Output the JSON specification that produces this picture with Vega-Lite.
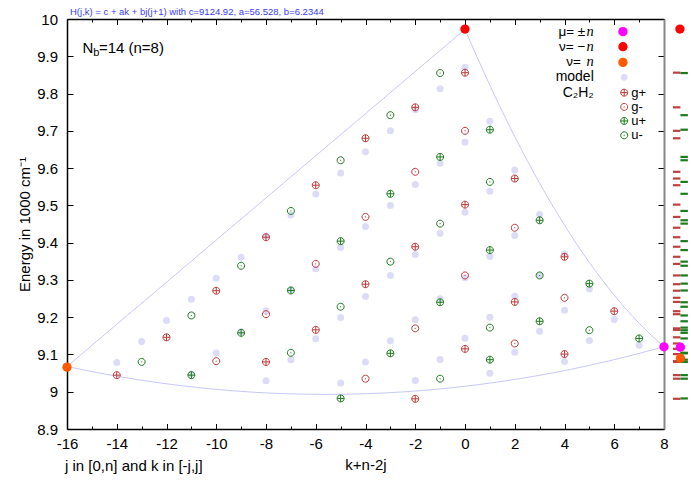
{
  "$schema": "https://vega.github.io/schema/vega-lite/v6.json",
  "width": 597,
  "height": 410,
  "autosize": {"type": "none"},
  "padding": {"left": 67, "top": 19, "right": 27, "bottom": 52},
  "background": "white",
  "config": {
    "view": {"stroke": null},
    "font": "Liberation Sans",
    "text": {"font": "Liberation Sans", "fontSize": 15, "color": "#000"},
    "axis": {"grid": false, "labelOverlap": false, "tickCount": 40, "labelFont": "Liberation Sans", "labelFontSize": 15, "labelColor": "#000", "tickColor": "#000", "domainColor": "#000", "titleFont": "Liberation Sans", "titleFontSize": 15, "titleFontWeight": "normal", "titleColor": "#000"}
  },
  "title": {"text": "H(j,k) = c + ak + bj(j+1) with c=9124.92, a=56.528, b=6.2344", "anchor": "start", "frame": "group", "fontSize": 9.5, "font": "Liberation Sans", "fontWeight": "normal", "color": "#3a3aff", "offset": -4.5, "dx": 3},
  "datasets": {
    "model": [
      {"x": 7, "E": 9.1249},
      {"x": 4, "E": 9.0809}, {"x": 5, "E": 9.1374}, {"x": 6, "E": 9.1939},
      {"x": 1, "E": 9.0493}, {"x": 2, "E": 9.1058}, {"x": 3, "E": 9.1623}, {"x": 4, "E": 9.2189}, {"x": 5, "E": 9.2754},
      {"x": -2, "E": 9.0301}, {"x": -1, "E": 9.0867}, {"x": 0, "E": 9.1432}, {"x": 1, "E": 9.1997}, {"x": 2, "E": 9.2563}, {"x": 3, "E": 9.3128}, {"x": 4, "E": 9.3693},
      {"x": -5, "E": 9.0235}, {"x": -4, "E": 9.08}, {"x": -3, "E": 9.1366}, {"x": -2, "E": 9.1931}, {"x": -1, "E": 9.2496}, {"x": 0, "E": 9.3061}, {"x": 1, "E": 9.3627}, {"x": 2, "E": 9.4192}, {"x": 3, "E": 9.4757},
      {"x": -8, "E": 9.0293}, {"x": -7, "E": 9.0858}, {"x": -6, "E": 9.1424}, {"x": -5, "E": 9.1989}, {"x": -4, "E": 9.2554}, {"x": -3, "E": 9.312}, {"x": -2, "E": 9.3685}, {"x": -1, "E": 9.425}, {"x": 0, "E": 9.4815}, {"x": 1, "E": 9.5381}, {"x": 2, "E": 9.5946},
      {"x": -11, "E": 9.0476}, {"x": -10, "E": 9.1041}, {"x": -9, "E": 9.1607}, {"x": -8, "E": 9.2172}, {"x": -7, "E": 9.2737}, {"x": -6, "E": 9.3302}, {"x": -5, "E": 9.3868}, {"x": -4, "E": 9.4433}, {"x": -3, "E": 9.4998}, {"x": -2, "E": 9.5563}, {"x": -1, "E": 9.6129}, {"x": 0, "E": 9.6694}, {"x": 1, "E": 9.7259},
      {"x": -14, "E": 9.0784}, {"x": -13, "E": 9.1349}, {"x": -12, "E": 9.1914}, {"x": -11, "E": 9.2479}, {"x": -10, "E": 9.3045}, {"x": -9, "E": 9.361}, {"x": -8, "E": 9.4175}, {"x": -7, "E": 9.474}, {"x": -6, "E": 9.5306}, {"x": -5, "E": 9.5871}, {"x": -4, "E": 9.6436}, {"x": -3, "E": 9.7002}, {"x": -2, "E": 9.7567}, {"x": -1, "E": 9.8132}, {"x": 0, "E": 9.8697}
    ],
    "obs": [
      {"x": -14, "E": 9.0445, "type": "g+"}, {"x": -12, "E": 9.146, "type": "g+"}, {"x": -10, "E": 9.271, "type": "g+"}, {"x": -8, "E": 9.08, "type": "g+"}, {"x": -8, "E": 9.4145, "type": "g+"}, {"x": -6, "E": 9.554, "type": "g+"}, {"x": -6, "E": 9.166, "type": "g+"}, {"x": -4, "E": 9.68, "type": "g+"}, {"x": -4, "E": 9.2885, "type": "g+"}, {"x": -2, "E": 9.763, "type": "g+"}, {"x": -2, "E": 9.389, "type": "g+"}, {"x": -2, "E": 8.981, "type": "g+"}, {"x": 0, "E": 9.856, "type": "g+"}, {"x": 0, "E": 9.502, "type": "g+"}, {"x": 0, "E": 9.115, "type": "g+"}, {"x": 2, "E": 9.572, "type": "g+"}, {"x": 2, "E": 9.241, "type": "g+"}, {"x": 4, "E": 9.362, "type": "g+"}, {"x": 4, "E": 9.101, "type": "g+"}, {"x": 6, "E": 9.216, "type": "g+"},
      {"x": -10, "E": 9.082, "type": "g-"}, {"x": -8, "E": 9.208, "type": "g-"}, {"x": -6, "E": 9.343, "type": "g-"}, {"x": -4, "E": 9.469, "type": "g-"}, {"x": -4, "E": 9.035, "type": "g-"}, {"x": -2, "E": 9.59, "type": "g-"}, {"x": -2, "E": 9.17, "type": "g-"}, {"x": 0, "E": 9.7, "type": "g-"}, {"x": 0, "E": 9.312, "type": "g-"}, {"x": 2, "E": 9.44, "type": "g-"}, {"x": 2, "E": 9.1295, "type": "g-"}, {"x": 4, "E": 9.252, "type": "g-"},
      {"x": -11, "E": 9.0445, "type": "u+"}, {"x": -9, "E": 9.158, "type": "u+"}, {"x": -7, "E": 9.2716, "type": "u+"}, {"x": -5, "E": 9.404, "type": "u+"}, {"x": -5, "E": 8.982, "type": "u+"}, {"x": -3, "E": 9.531, "type": "u+"}, {"x": -3, "E": 9.103, "type": "u+"}, {"x": -1, "E": 9.63, "type": "u+"}, {"x": -1, "E": 9.24, "type": "u+"}, {"x": 1, "E": 9.703, "type": "u+"}, {"x": 1, "E": 9.38, "type": "u+"}, {"x": 1, "E": 9.086, "type": "u+"}, {"x": 3, "E": 9.46, "type": "u+"}, {"x": 3, "E": 9.189, "type": "u+"}, {"x": 5, "E": 9.29, "type": "u+"}, {"x": 7, "E": 9.143, "type": "u+"},
      {"x": -13, "E": 9.08, "type": "u-"}, {"x": -11, "E": 9.2046, "type": "u-"}, {"x": -9, "E": 9.338, "type": "u-"}, {"x": -7, "E": 9.485, "type": "u-"}, {"x": -7, "E": 9.1045, "type": "u-"}, {"x": -5, "E": 9.621, "type": "u-"}, {"x": -5, "E": 9.228, "type": "u-"}, {"x": -3, "E": 9.742, "type": "u-"}, {"x": -3, "E": 9.349, "type": "u-"}, {"x": -1, "E": 9.855, "type": "u-"}, {"x": -1, "E": 9.451, "type": "u-"}, {"x": -1, "E": 9.035, "type": "u-"}, {"x": 1, "E": 9.563, "type": "u-"}, {"x": 1, "E": 9.172, "type": "u-"}, {"x": 3, "E": 9.312, "type": "u-"}, {"x": 5, "E": 9.165, "type": "u-"}
    ],
    "bound": [
      {"curve": "top", "x": -16, "E": 9.0678}, {"curve": "top", "x": 0, "E": 9.9722},
      {"curve": "bottom", "x": 8, "E": 9.121}, {"curve": "bottom", "x": 6.5, "E": 9.0943}, {"curve": "bottom", "x": 5, "E": 9.0707}, {"curve": "bottom", "x": 3.5, "E": 9.0502}, {"curve": "bottom", "x": 2, "E": 9.0329}, {"curve": "bottom", "x": 0.5, "E": 9.0187}, {"curve": "bottom", "x": -1, "E": 9.0075}, {"curve": "bottom", "x": -2.5, "E": 8.9995}, {"curve": "bottom", "x": -4, "E": 8.9946}, {"curve": "bottom", "x": -5.5, "E": 8.9929}, {"curve": "bottom", "x": -7, "E": 8.9942}, {"curve": "bottom", "x": -8.5, "E": 8.9987}, {"curve": "bottom", "x": -10, "E": 9.0063}, {"curve": "bottom", "x": -11.5, "E": 9.017}, {"curve": "bottom", "x": -13, "E": 9.0308}, {"curve": "bottom", "x": -14.5, "E": 9.0477}, {"curve": "bottom", "x": -16, "E": 9.0678},
      {"curve": "right", "x": 8, "E": 9.121}, {"curve": "right", "x": 7.5, "E": 9.1508}, {"curve": "right", "x": 7, "E": 9.1838}, {"curve": "right", "x": 6.5, "E": 9.2198}, {"curve": "right", "x": 6, "E": 9.259}, {"curve": "right", "x": 5.5, "E": 9.3013}, {"curve": "right", "x": 5, "E": 9.3467}, {"curve": "right", "x": 4.5, "E": 9.3952}, {"curve": "right", "x": 4, "E": 9.4469}, {"curve": "right", "x": 3.5, "E": 9.5016}, {"curve": "right", "x": 3, "E": 9.5595}, {"curve": "right", "x": 2.5, "E": 9.6205}, {"curve": "right", "x": 2, "E": 9.6846}, {"curve": "right", "x": 1.5, "E": 9.7518}, {"curve": "right", "x": 1, "E": 9.8222}, {"curve": "right", "x": 0.5, "E": 9.8957}, {"curve": "right", "x": 0, "E": 9.9722}
    ],
    "special": [
      {"x": -16, "E": 9.066, "type": "nu_pos"}, {"x": 0, "E": 9.973, "type": "nu_neg"}, {"x": 8, "E": 9.1205, "type": "mu"},
      {"x": 8.64, "E": 9.973, "type": "nu_neg"}, {"x": 8.66, "E": 9.1195, "type": "mu"}, {"x": 8.66, "E": 9.09, "type": "nu_pos"}
    ]
  },
  "resolve": {"axis": {"x": "independent", "y": "independent"}},
  "layer": [
    {
      "data": {"values": [{"note": "annotation"}]},
      "layer": [
        {
          "data": {"name": "bound"},
          "mark": {"type": "line", "color": "#c8c8f8", "strokeWidth": 1, "interpolate": "monotone"},
          "encoding": {
            "x": {"field": "x", "type": "quantitative", "scale": {"domain": [-16, 8], "nice": false, "zero": false},
              "axis": {"orient": "bottom", "values": [-16, -14, -12, -10, -8, -6, -4, -2, 0, 2, 4, 6, 8], "tickCount": 40, "labelExpr": "datum.value + ''", "tickSize": -5.5, "tickWidth": 1, "labelPadding": 12.5, "labelOverlap": false, "labelFlush": false, "domain": true, "domainWidth": 1.5, "title": "k+n-2j", "titlePadding": 6}},
            "y": {"field": "E", "type": "quantitative", "scale": {"domain": [8.9, 10], "nice": false, "zero": false},
              "axis": {"orient": "left", "values": [8.9, 9, 9.1, 9.2, 9.3, 9.4, 9.5, 9.6, 9.7, 9.8, 9.9, 10], "tickCount": 40, "labelExpr": "datum.value + ''", "tickSize": -6, "tickWidth": 1, "labelPadding": 15.5, "labelOverlap": false, "labelFlush": false, "labelSeparation": 0, "domain": true, "domainWidth": 1.5, "title": "Energy in 1000 cm⁻¹", "titlePadding": 4}},
            "detail": {"field": "curve"}
          }
        },
        {
          "data": {"name": "model"},
          "mark": {"type": "point", "shape": "circle", "filled": true, "opacity": 1, "size": 49, "color": "#dcdcf8"},
          "encoding": {
            "x": {"field": "x", "type": "quantitative"},
            "y": {"field": "E", "type": "quantitative"}
          }
        },
        {
          "data": {"name": "obs"},
          "transform": [{"filter": "datum.type == 'g+' || datum.type == 'g-'"}],
          "mark": {"type": "rule", "color": "#c04040", "strokeWidth": 2.2},
          "encoding": {
            "x": {"datum": 8.36, "type": "quantitative"},
            "x2": {"datum": 8.66},
            "y": {"field": "E", "type": "quantitative"}
          }
        },
        {
          "data": {"name": "obs"},
          "transform": [{"filter": "datum.type == 'u+' || datum.type == 'u-'"}],
          "mark": {"type": "rule", "color": "#1c7c1c", "strokeWidth": 2.2},
          "encoding": {
            "x": {"datum": 8.66, "type": "quantitative"},
            "x2": {"datum": 8.96},
            "y": {"field": "E", "type": "quantitative"}
          }
        },
        {
          "data": {"name": "obs"},
          "mark": {"type": "point", "filled": false, "opacity": 1, "size": 49, "strokeWidth": 1},
          "encoding": {
            "x": {"field": "x", "type": "quantitative"},
            "y": {"field": "E", "type": "quantitative"},
            "shape": {"field": "type", "type": "nominal", "legend": null,
              "scale": {"domain": ["g+", "g-", "u+", "u-", "mu", "nu_neg", "nu_pos"], "range": ["M-1,0A1,1,0,1,1,1,0A1,1,0,1,1,-1,0Z M-1,0L1,0 M0,-1L0,1", "M-1,0A1,1,0,1,1,1,0A1,1,0,1,1,-1,0Z M-0.15,0L0.15,0", "M-1,0A1,1,0,1,1,1,0A1,1,0,1,1,-1,0Z M-1,0L1,0 M0,-1L0,1", "M-1,0A1,1,0,1,1,1,0A1,1,0,1,1,-1,0Z M-0.15,0L0.15,0", "circle", "circle", "circle"]}},
            "color": {"field": "type", "type": "nominal", "legend": null,
              "scale": {"domain": ["g+", "g-", "u+", "u-", "mu", "nu_neg", "nu_pos"], "range": ["#c03838", "#c03838", "#1c7c1c", "#1c7c1c", "#ff00ff", "#ff0000", "#ff5a00"]}}
          }
        },
        {
          "data": {"name": "special"},
          "mark": {"type": "point", "shape": "circle", "filled": true, "opacity": 1, "size": 87},
          "encoding": {
            "x": {"field": "x", "type": "quantitative"},
            "y": {"field": "E", "type": "quantitative"},
            "color": {"field": "type", "type": "nominal", "legend": null}
          }
        },
        {"data": {"values": [{"type": "mu"}]}, "mark": {"type": "point", "shape": "circle", "filled": true, "opacity": 1, "size": 87},
          "encoding": {"x": {"datum": 6.35, "type": "quantitative"}, "y": {"datum": 9.966, "type": "quantitative"}, "color": {"field": "type", "type": "nominal", "legend": null}}},
        {"data": {"values": [{"type": "nu_neg"}]}, "mark": {"type": "point", "shape": "circle", "filled": true, "opacity": 1, "size": 87},
          "encoding": {"x": {"datum": 6.35, "type": "quantitative"}, "y": {"datum": 9.9257, "type": "quantitative"}, "color": {"field": "type", "type": "nominal", "legend": null}}},
        {"data": {"values": [{"type": "nu_pos"}]}, "mark": {"type": "point", "shape": "circle", "filled": true, "opacity": 1, "size": 87},
          "encoding": {"x": {"datum": 6.35, "type": "quantitative"}, "y": {"datum": 9.8836, "type": "quantitative"}, "color": {"field": "type", "type": "nominal", "legend": null}}},
        {"data": {"values": [{"name": "model"}]}, "mark": {"type": "point", "shape": "circle", "filled": true, "opacity": 1, "size": 45, "color": "#dcdcf8"},
          "encoding": {"x": {"datum": 6.4, "type": "quantitative"}, "y": {"datum": 9.8434, "type": "quantitative"}}},
        {"data": {"values": [{"type": "g+"}]}, "mark": {"type": "point", "filled": false, "opacity": 1, "size": 49, "strokeWidth": 1},
          "encoding": {"x": {"datum": 6.4, "type": "quantitative"}, "y": {"datum": 9.8024, "type": "quantitative"}, "shape": {"field": "type", "type": "nominal", "legend": null}, "color": {"field": "type", "type": "nominal", "legend": null}}},
        {"data": {"values": [{"type": "g-"}]}, "mark": {"type": "point", "filled": false, "opacity": 1, "size": 49, "strokeWidth": 1},
          "encoding": {"x": {"datum": 6.4, "type": "quantitative"}, "y": {"datum": 9.7641, "type": "quantitative"}, "shape": {"field": "type", "type": "nominal", "legend": null}, "color": {"field": "type", "type": "nominal", "legend": null}}},
        {"data": {"values": [{"type": "u+"}]}, "mark": {"type": "point", "filled": false, "opacity": 1, "size": 49, "strokeWidth": 1},
          "encoding": {"x": {"datum": 6.4, "type": "quantitative"}, "y": {"datum": 9.7265, "type": "quantitative"}, "shape": {"field": "type", "type": "nominal", "legend": null}, "color": {"field": "type", "type": "nominal", "legend": null}}},
        {"data": {"values": [{"type": "u-"}]}, "mark": {"type": "point", "filled": false, "opacity": 1, "size": 49, "strokeWidth": 1},
          "encoding": {"x": {"datum": 6.4, "type": "quantitative"}, "y": {"datum": 9.688, "type": "quantitative"}, "shape": {"field": "type", "type": "nominal", "legend": null}, "color": {"field": "type", "type": "nominal", "legend": null}}},
        {"mark": {"type": "text", "text": "g+", "align": "left", "baseline": "middle", "fontSize": 13},
          "encoding": {"x": {"datum": 6.68, "type": "quantitative"}, "y": {"datum": 9.8024, "type": "quantitative"}}},
        {"mark": {"type": "text", "text": "g-", "align": "left", "baseline": "middle", "fontSize": 13},
          "encoding": {"x": {"datum": 6.68, "type": "quantitative"}, "y": {"datum": 9.7641, "type": "quantitative"}}},
        {"mark": {"type": "text", "text": "u+", "align": "left", "baseline": "middle", "fontSize": 13},
          "encoding": {"x": {"datum": 6.68, "type": "quantitative"}, "y": {"datum": 9.7265, "type": "quantitative"}}},
        {"mark": {"type": "text", "text": "u-", "align": "left", "baseline": "middle", "fontSize": 13},
          "encoding": {"x": {"datum": 6.68, "type": "quantitative"}, "y": {"datum": 9.688, "type": "quantitative"}}},
        {"mark": {"type": "text", "text": "μ= ±", "align": "right", "baseline": "middle", "dx": -8.5, "fontSize": 13.5},
          "encoding": {"x": {"datum": 5.177, "type": "quantitative"}, "y": {"datum": 9.966, "type": "quantitative"}}},
        {"mark": {"type": "text", "text": "n", "align": "right", "baseline": "middle", "font": "Liberation Serif", "fontStyle": "italic", "fontSize": 14.5},
          "encoding": {"x": {"datum": 5.177, "type": "quantitative"}, "y": {"datum": 9.966, "type": "quantitative"}}},
        {"mark": {"type": "text", "text": "ν= −", "align": "right", "baseline": "middle", "dx": -8.5, "fontSize": 13.5},
          "encoding": {"x": {"datum": 5.177, "type": "quantitative"}, "y": {"datum": 9.9257, "type": "quantitative"}}},
        {"mark": {"type": "text", "text": "n", "align": "right", "baseline": "middle", "font": "Liberation Serif", "fontStyle": "italic", "fontSize": 14.5},
          "encoding": {"x": {"datum": 5.177, "type": "quantitative"}, "y": {"datum": 9.9257, "type": "quantitative"}}},
        {"mark": {"type": "text", "text": "ν=", "align": "right", "baseline": "middle", "dx": -13, "fontSize": 13.5},
          "encoding": {"x": {"datum": 5.177, "type": "quantitative"}, "y": {"datum": 9.8836, "type": "quantitative"}}},
        {"mark": {"type": "text", "text": "n", "align": "right", "baseline": "middle", "font": "Liberation Serif", "fontStyle": "italic", "fontSize": 14.5},
          "encoding": {"x": {"datum": 5.177, "type": "quantitative"}, "y": {"datum": 9.8836, "type": "quantitative"}}},
        {"mark": {"type": "text", "text": "model", "align": "right", "baseline": "middle", "fontSize": 14},
          "encoding": {"x": {"datum": 5.177, "type": "quantitative"}, "y": {"datum": 9.8434, "type": "quantitative"}}},
        {"mark": {"type": "text", "text": "C₂H₂", "align": "right", "baseline": "middle", "fontSize": 14},
          "encoding": {"x": {"datum": 5.177, "type": "quantitative"}, "y": {"datum": 9.8024, "type": "quantitative"}}},
        {"mark": {"type": "text", "text": "N", "align": "left", "baseline": "alphabetic"},
          "encoding": {"x": {"datum": -15.373, "type": "quantitative"}, "y": {"datum": 9.9088, "type": "quantitative"}}},
        {"mark": {"type": "text", "text": "b", "align": "left", "baseline": "alphabetic", "fontSize": 11, "dx": 10.6, "dy": 3.5},
          "encoding": {"x": {"datum": -15.373, "type": "quantitative"}, "y": {"datum": 9.9088, "type": "quantitative"}}},
        {"mark": {"type": "text", "text": "=14 (n=8)", "align": "left", "baseline": "alphabetic", "dx": 16.3},
          "encoding": {"x": {"datum": -15.373, "type": "quantitative"}, "y": {"datum": 9.9088, "type": "quantitative"}}},
        {"mark": {"type": "text", "text": "j in [0,n] and k in [-j,j]", "align": "left", "baseline": "middle", "dx": -2, "dy": 36.5},
          "encoding": {"x": {"datum": -16, "type": "quantitative"}, "y": {"datum": 8.9, "type": "quantitative"}}}
      ]
    },
    {
      "data": {"name": "model"},
      "mark": {"type": "point", "opacity": 0, "size": 1},
      "encoding": {
        "x": {"field": "x", "type": "quantitative", "scale": {"domain": [-16, 8], "nice": false, "zero": false},
          "axis": {"orient": "top", "values": [-16, -14, -12, -10, -8, -6, -4, -2, 0, 2, 4, 6, 8], "tickCount": 40, "tickSize": -5.5, "tickWidth": 1, "labels": false, "domain": true, "domainWidth": 1.5, "title": null}},
        "y": {"field": "E", "type": "quantitative", "scale": {"domain": [8.9, 10], "nice": false, "zero": false},
          "axis": {"orient": "right", "values": [8.9, 9, 9.1, 9.2, 9.3, 9.4, 9.5, 9.6, 9.7, 9.8, 9.9, 10], "tickCount": 40, "tickSize": -6, "tickWidth": 1, "labels": false, "domain": true, "domainWidth": 2, "domainColor": "#888888", "title": null}}
      }
    },
    {
      "data": {"name": "model"},
      "mark": {"type": "point", "opacity": 0, "size": 1},
      "encoding": {
        "x": {"field": "x", "type": "quantitative", "scale": {"domain": [-16, 8], "nice": false, "zero": false},
          "axis": {"orient": "bottom", "values": [-15, -13, -11, -9, -7, -5, -3, -1, 1, 3, 5, 7], "tickCount": 40, "tickSize": -3, "tickWidth": 1, "labels": false, "domain": false, "title": null}},
        "y": {"field": "E", "type": "quantitative", "axis": null}
      }
    },
    {
      "data": {"name": "model"},
      "mark": {"type": "point", "opacity": 0, "size": 1},
      "encoding": {
        "x": {"field": "x", "type": "quantitative", "scale": {"domain": [-16, 8], "nice": false, "zero": false},
          "axis": {"orient": "top", "values": [-15, -13, -11, -9, -7, -5, -3, -1, 1, 3, 5, 7], "tickCount": 40, "tickSize": -3, "tickWidth": 1, "labels": false, "domain": false, "title": null}},
        "y": {"field": "E", "type": "quantitative", "axis": null}
      }
    }
  ]
}
